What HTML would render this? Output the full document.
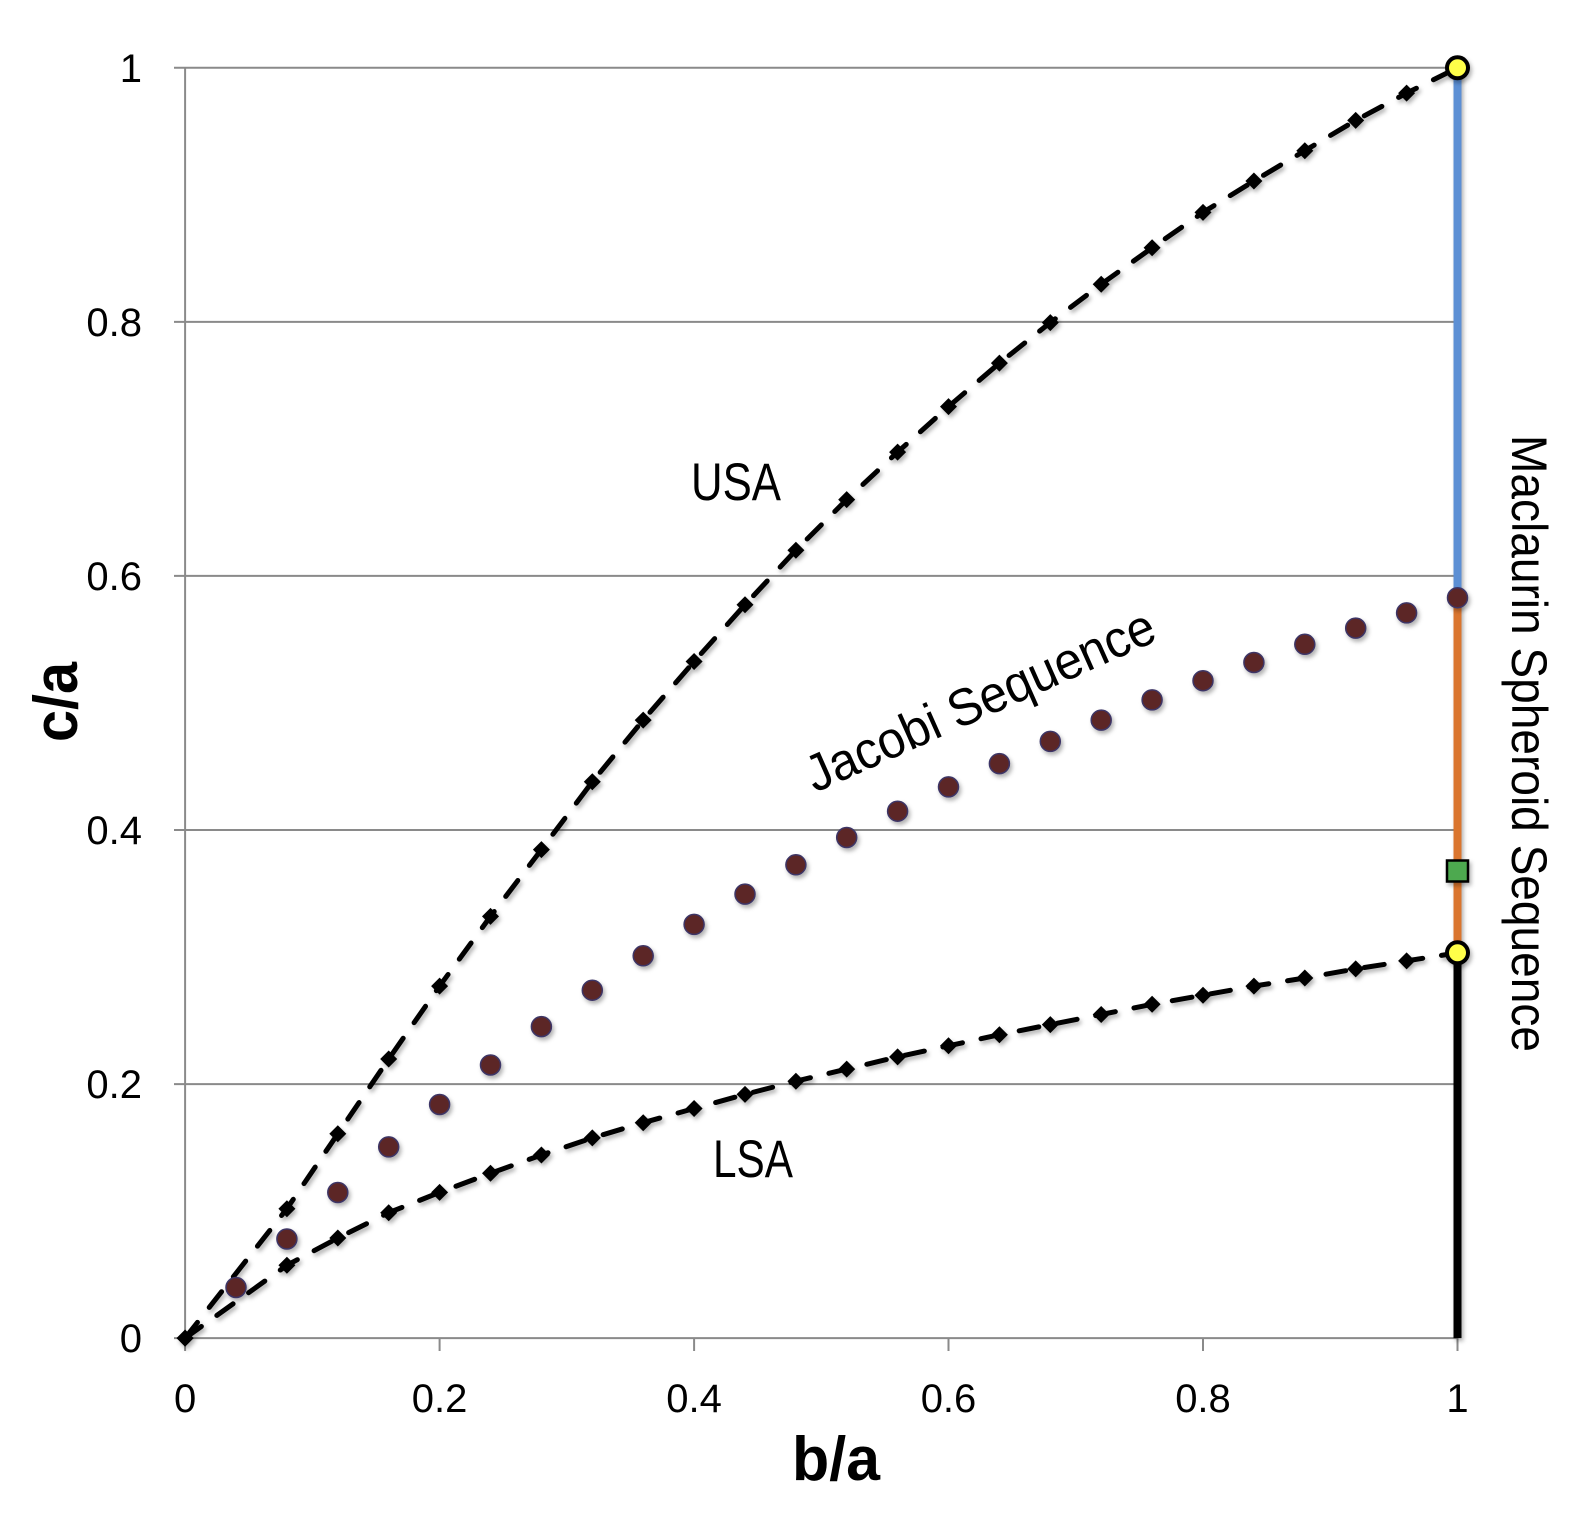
<!DOCTYPE html>
<html>
<head>
<meta charset="utf-8">
<style>
  html, body { margin: 0; padding: 0; background: #ffffff; }
  svg { display: block; }
  text { font-family: "Liberation Sans", "DejaVu Sans", sans-serif; fill: #000; }
</style>
</head>
<body>
<svg width="1586" height="1522" viewBox="0 0 1586 1522" xmlns="http://www.w3.org/2000/svg">
  <defs>
    <filter id="sh" filterUnits="userSpaceOnUse" x="0" y="0" width="1586" height="1522">
      <feDropShadow dx="2" dy="3" stdDeviation="2" flood-color="#000" flood-opacity="0.3"/>
    </filter>
    <marker id="dm" markerWidth="24" markerHeight="24" refX="12" refY="12" markerUnits="userSpaceOnUse" orient="0">
      <path d="M12 3.5 L20.5 12 L12 20.5 L3.5 12 Z" fill="#000" stroke="none"/>
    </marker>
  </defs>

  <rect x="0" y="0" width="1586" height="1522" fill="#fff"/>

  <!-- gridlines -->
  <g stroke="#8a8a8a" stroke-width="2" fill="none">
    <line x1="174" y1="67.8" x2="1457.5" y2="67.8"/>
    <line x1="174" y1="321.9" x2="1457.5" y2="321.9"/>
    <line x1="174" y1="575.9" x2="1457.5" y2="575.9"/>
    <line x1="174" y1="830.0" x2="1457.5" y2="830.0"/>
    <line x1="174" y1="1084.1" x2="1457.5" y2="1084.1"/>
    <line x1="174" y1="1338.1" x2="1457.5" y2="1338.1"/>
    <line x1="185.1" y1="67.8" x2="185.1" y2="1338.1"/>
    <line x1="185.1" y1="1338.1" x2="185.1" y2="1351"/>
    <line x1="439.6" y1="1338.1" x2="439.6" y2="1351"/>
    <line x1="694.1" y1="1338.1" x2="694.1" y2="1351"/>
    <line x1="948.5" y1="1338.1" x2="948.5" y2="1351"/>
    <line x1="1203.0" y1="1338.1" x2="1203.0" y2="1351"/>
    <line x1="1457.5" y1="1338.1" x2="1457.5" y2="1351"/>
  </g>

  <!-- y tick labels -->
  <g font-size="40" text-anchor="end">
    <text x="142" y="82">1</text>
    <text x="142" y="336">0.8</text>
    <text x="142" y="590">0.6</text>
    <text x="142" y="844">0.4</text>
    <text x="142" y="1098">0.2</text>
    <text x="142" y="1352">0</text>
  </g>
  <!-- x tick labels -->
  <g font-size="40" text-anchor="middle">
    <text x="185.1" y="1412">0</text>
    <text x="439.6" y="1412">0.2</text>
    <text x="694.1" y="1412">0.4</text>
    <text x="948.5" y="1412">0.6</text>
    <text x="1203.0" y="1412">0.8</text>
    <text x="1457.5" y="1412">1</text>
  </g>

  <!-- axis titles -->
  <text transform="translate(77,702) rotate(-90)" text-anchor="middle" font-size="62" font-weight="bold" textLength="80" lengthAdjust="spacingAndGlyphs">c/a</text>
  <text x="836" y="1480" text-anchor="middle" font-size="62" font-weight="bold" textLength="88" lengthAdjust="spacingAndGlyphs">b/a</text>

  <!-- vertical Maclaurin line segments -->
  <g filter="url(#sh)">
    <rect x="1453.5" y="67.8" width="8" height="529.9" fill="#5b8fd4"/>
    <rect x="1453.5" y="597.7" width="8" height="355.1" fill="#da742e"/>
    <rect x="1453.5" y="952.8" width="8" height="385.3" fill="#000"/>
  </g>

  <!-- USA / LSA dashed -->
  <g filter="url(#sh)">
    <polyline fill="none" stroke="#000" stroke-width="5" stroke-linecap="round" stroke-dasharray="20 19"
      marker-start="url(#dm)" marker-mid="url(#dm)"
      points="185.1,1338.1 286.9,1208.7 337.8,1133.8 388.7,1059.0 439.6,986.1 490.5,916.4 541.4,849.6 592.3,781.8 643.2,720.1 694.1,661.5 745.0,604.8 795.9,550.2 846.7,499.6 897.6,452.1 948.5,406.6 999.4,363.1 1050.3,322.6 1101.2,284.2 1152.1,247.8 1203.0,212.4 1253.9,181.0 1304.8,150.7 1355.7,120.4 1406.6,93.1 1457.5,67.8"/>
    <polyline fill="none" stroke="#000" stroke-width="5" stroke-linecap="round" stroke-dasharray="20 19"
      marker-start="url(#dm)" marker-mid="url(#dm)"
      points="185.1,1338.1 286.9,1265.3 337.8,1238.0 388.7,1212.7 439.6,1192.4 490.5,1173.3 541.4,1155.0 592.3,1137.9 643.2,1122.7 694.1,1108.5 745.0,1094.4 795.9,1081.2 846.7,1069.1 897.6,1056.9 948.5,1045.8 999.4,1034.7 1050.3,1024.6 1101.2,1014.5 1152.1,1004.3 1203.0,995.2 1253.9,986.1 1304.8,978.0 1355.7,968.9 1406.6,960.9 1457.5,952.8"/>
  </g>

  <!-- Jacobi dots -->
  <g fill="#5b2727" stroke="#3d3566" stroke-width="1.5" filter="url(#sh)">
    <circle cx="236.0" cy="1287.5" r="10"/>
    <circle cx="286.9" cy="1239.0" r="10"/>
    <circle cx="337.8" cy="1192.5" r="10"/>
    <circle cx="388.7" cy="1146.9" r="10"/>
    <circle cx="439.6" cy="1104.5" r="10"/>
    <circle cx="490.5" cy="1065.0" r="10"/>
    <circle cx="541.4" cy="1026.6" r="10"/>
    <circle cx="592.3" cy="990.2" r="10"/>
    <circle cx="643.2" cy="955.8" r="10"/>
    <circle cx="694.1" cy="924.4" r="10"/>
    <circle cx="745.0" cy="894.1" r="10"/>
    <circle cx="795.9" cy="864.8" r="10"/>
    <circle cx="846.7" cy="837.5" r="10"/>
    <circle cx="897.6" cy="811.2" r="10"/>
    <circle cx="948.5" cy="786.9" r="10"/>
    <circle cx="999.4" cy="763.6" r="10"/>
    <circle cx="1050.3" cy="741.4" r="10"/>
    <circle cx="1101.2" cy="720.1" r="10"/>
    <circle cx="1152.1" cy="699.9" r="10"/>
    <circle cx="1203.0" cy="680.7" r="10"/>
    <circle cx="1253.9" cy="662.5" r="10"/>
    <circle cx="1304.8" cy="644.3" r="10"/>
    <circle cx="1355.7" cy="628.1" r="10"/>
    <circle cx="1406.6" cy="612.9" r="10"/>
    <circle cx="1457.5" cy="597.7" r="10"/>
  </g>

  <!-- special markers -->
  <g filter="url(#sh)">
    <rect x="1447" y="860.5" width="21" height="21" fill="#4ea94f" stroke="#000" stroke-width="2.5"/>
    <circle cx="1457.5" cy="67.8" r="10.5" fill="#ffff4a" stroke="#000" stroke-width="4"/>
    <circle cx="1457.5" cy="952.8" r="10.5" fill="#ffff4a" stroke="#000" stroke-width="4"/>
  </g>

  <!-- annotations -->
  <text x="691" y="500" font-size="53" textLength="90" lengthAdjust="spacingAndGlyphs">USA</text>
  <text x="713" y="1177" font-size="53" textLength="80" lengthAdjust="spacingAndGlyphs">LSA</text>
  <text transform="translate(815,793) rotate(-24)" font-size="52" textLength="377" lengthAdjust="spacingAndGlyphs">Jacobi Sequence</text>
  <text transform="translate(1512,435) rotate(90)" font-size="50" textLength="617" lengthAdjust="spacingAndGlyphs">Maclaurin Spheroid Sequence</text>
</svg>
</body>
</html>
